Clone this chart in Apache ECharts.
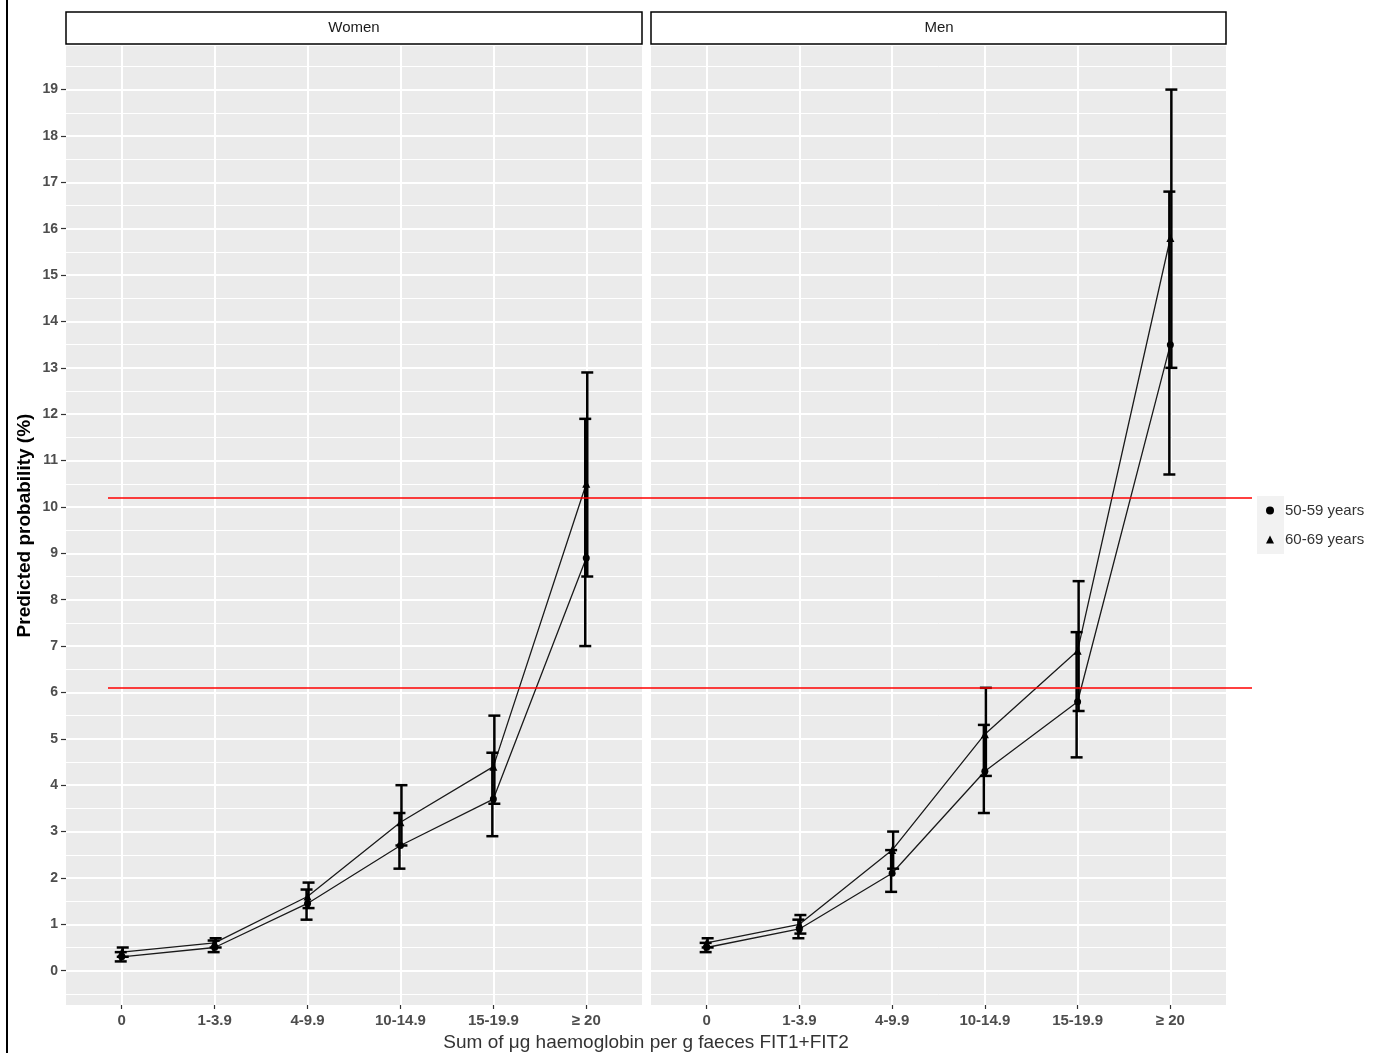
<!DOCTYPE html>
<html lang="en">
<head>
    <meta charset="utf-8">
    <script src="https://cdn.jsdelivr.net/npm/echarts@6/dist/echarts.min.js"></script>
    <title>Predicted probability by FIT haemoglobin</title>
    <style>
        html, body { margin: 0; padding: 0; background: #fff; }
        #main { width: 1379px; height: 1053px; }
    </style>
</head>
<body>
<div id="main"></div>
<script type="text/javascript">
    // categories of summed haemoglobin (FIT1+FIT2)
    var categories = ['0', '1-3.9', '4-9.9', '10-14.9', '15-19.9', '\u2265 20'];
    var yTicks = [0, 1, 2, 3, 4, 5, 6, 7, 8, 9, 10, 11, 12, 13, 14, 15, 16, 17, 18, 19];
    var yMinor = [-0.5, 0.5, 1.5, 2.5, 3.5, 4.5, 5.5, 6.5, 7.5, 8.5, 9.5, 10.5, 11.5, 12.5, 13.5, 14.5, 15.5, 16.5, 17.5, 18.5, 19.5];

    // Women
    var women50 = [0.3, 0.5, 1.45, 2.7, 3.7, 8.9];
    var women50Low = [0.2, 0.4, 1.1, 2.2, 2.9, 7.0];
    var women50High = [0.4, 0.65, 1.75, 3.4, 4.7, 11.9];
    var women60 = [0.4, 0.6, 1.6, 3.2, 4.4, 10.5];
    var women60Low = [0.3, 0.5, 1.35, 2.7, 3.6, 8.5];
    var women60High = [0.5, 0.7, 1.9, 4.0, 5.5, 12.9];

    // Men
    var men50 = [0.5, 0.9, 2.1, 4.3, 5.8, 13.5];
    var men50Low = [0.4, 0.7, 1.7, 3.4, 4.6, 10.7];
    var men50High = [0.6, 1.1, 2.6, 5.3, 7.3, 16.8];
    var men60 = [0.6, 1.0, 2.6, 5.1, 6.9, 15.8];
    var men60Low = [0.5, 0.8, 2.2, 4.2, 5.6, 13.0];
    var men60High = [0.7, 1.2, 3.0, 6.1, 8.4, 19.0];

    // red reference lines
    var thresholds = [10.2, 6.1];

    var yMin = -0.74, yMax = 19.94;

    function points(arr) {
        return arr.map(function (v, i) { return [i, v]; });
    }
    function ranges(lo, hi) {
        return lo.map(function (v, i) { return [i, v, hi[i]]; });
    }

    // draws a vertical error bar with caps
    function errorBar(offset) {
        return function (params, api) {
            var x = api.value(0);
            var lo = api.coord([x, api.value(1)]);
            var hi = api.coord([x, api.value(2)]);
            var cx = lo[0] + offset;
            var half = 6;
            var style = {stroke: '#000', lineWidth: 2.5};
            return {
                type: 'group',
                children: [
                    {type: 'line', shape: {x1: cx, y1: hi[1], x2: cx, y2: lo[1]}, style: style},
                    {type: 'line', shape: {x1: cx - half, y1: hi[1], x2: cx + half, y2: hi[1]}, style: style},
                    {type: 'line', shape: {x1: cx - half, y1: lo[1], x2: cx + half, y2: lo[1]}, style: style}
                ]
            };
        };
    }

    function xAxisFor(gridIndex) {
        return {
            type: 'value', gridIndex: gridIndex, min: -0.6, max: 5.6,
            axisLine: {show: false, onZero: false},
            axisTick: {show: true, customValues: [0, 1, 2, 3, 4, 5], length: 4,
                lineStyle: {color: '#333', width: 1.2}},
            axisLabel: {customValues: [0, 1, 2, 3, 4, 5], margin: 8,
                formatter: function (v) { return categories[Math.round(v)]; },
                color: '#4D4D4D', fontWeight: 'bold', fontSize: 15, fontFamily: 'Liberation Sans'},
            splitLine: {show: true, lineStyle: {color: '#fff', width: 2}}
        };
    }

    function yMajor(gridIndex, labels) {
        return {
            type: 'value', gridIndex: gridIndex, min: yMin, max: yMax,
            axisLine: {show: false, onZero: false},
            axisTick: {show: labels, customValues: yTicks, length: 5,
                lineStyle: {color: '#333', width: 1.2}},
            axisLabel: {show: labels, customValues: yTicks, margin: 8,
                color: '#4D4D4D', fontWeight: 'bold', fontSize: 14, fontFamily: 'Liberation Sans'},
            splitLine: {show: true, lineStyle: {color: '#fff', width: 2}},
            name: labels ? 'Predicted probability (%)' : '',
            nameLocation: 'middle', nameGap: 32, nameRotate: 90,
            nameTextStyle: {color: '#000', fontWeight: 'bold', fontSize: 19, fontFamily: 'Liberation Sans'}
        };
    }

    function yMinorAxis(gridIndex) {
        return {
            type: 'value', gridIndex: gridIndex, min: yMin, max: yMax, position: 'left',
            axisLine: {show: false, onZero: false},
            axisTick: {show: false, customValues: yMinor},
            axisLabel: {show: false},
            splitLine: {show: true, lineStyle: {color: '#fff', width: 1}}
        };
    }

    function panelSeries(xi, yi, v50, lo50, hi50, v60, lo60, hi60) {
        var lineStyle = {color: '#1a1a1a', width: 1.3};
        return [
            {name: '50-59 years', type: 'line', xAxisIndex: xi, yAxisIndex: yi, data: points(v50),
                symbol: 'circle', symbolSize: 7, itemStyle: {color: '#000'}, lineStyle: lineStyle, z: 3},
            {name: '60-69 years', type: 'line', xAxisIndex: xi, yAxisIndex: yi, data: points(v60),
                symbol: 'triangle', symbolSize: 8, itemStyle: {color: '#000'}, lineStyle: lineStyle, z: 3},
            {name: '50-59 years', type: 'custom', xAxisIndex: xi, yAxisIndex: yi, data: ranges(lo50, hi50),
                renderItem: errorBar(-1), encode: {x: 0, y: [1, 2]}, z: 4},
            {name: '60-69 years', type: 'custom', xAxisIndex: xi, yAxisIndex: yi, data: ranges(lo60, hi60),
                renderItem: errorBar(1), encode: {x: 0, y: [1, 2]}, z: 4}
        ];
    }

    var chart = echarts.init(document.getElementById('main'), null, {renderer: 'canvas'});

    var series = []
        .concat(panelSeries(0, 0, women50, women50Low, women50High, women60, women60Low, women60High))
        .concat(panelSeries(1, 2, men50, men50Low, men50High, men60, men60Low, men60High));

    series.push({
        name: 'thresholds', type: 'line', xAxisIndex: 2, yAxisIndex: 4, data: [],
        silent: true,
        markLine: {
            symbol: 'none', silent: true, label: {show: false},
            lineStyle: {color: '#FF0000', width: 1.5, type: 'solid'},
            data: thresholds.map(function (t) { return {yAxis: t}; })
        },
        z: 5
    });

    var option = {
        animation: false,
        backgroundColor: '#fff',
        grid: [
            {left: 66, top: 46, width: 576, height: 959, show: true, backgroundColor: '#EBEBEB', borderWidth: 0},
            {left: 651, top: 46, width: 575, height: 959, show: true, backgroundColor: '#EBEBEB', borderWidth: 0},
            {left: 108, top: 46, width: 1144, height: 959, show: false}
        ],
        xAxis: [
            xAxisFor(0),
            xAxisFor(1),
            {type: 'value', gridIndex: 2, min: 0, max: 1, show: false}
        ],
        yAxis: [
            yMajor(0, true),
            yMinorAxis(0),
            yMajor(1, false),
            yMinorAxis(1),
            {type: 'value', gridIndex: 2, min: yMin, max: yMax, show: false}
        ],
        legend: {
            orient: 'vertical', left: 1266, top: 496, padding: 0, itemGap: 0,
            itemWidth: 8, itemHeight: 8,
            data: [{name: '50-59 years', icon: 'circle'}, {name: '60-69 years', icon: 'triangle'}],
            itemStyle: {color: '#000'},
            textStyle: {color: '#333', fontSize: 15, lineHeight: 29, padding: [0, 0, 0, 6],
                fontFamily: 'Liberation Sans'}
        },
        graphic: [
            {type: 'line', shape: {x1: 7, y1: 0, x2: 7, y2: 1053}, style: {stroke: '#000', lineWidth: 2}},
            {type: 'rect', shape: {x: 1257, y: 496, width: 27, height: 29}, style: {fill: '#F2F2F2'}, z: -1},
            {type: 'rect', shape: {x: 1257, y: 525, width: 27, height: 29}, style: {fill: '#F2F2F2'}, z: -1},
            {type: 'rect', shape: {x: 66, y: 12, width: 576, height: 32}, style: {fill: '#fff', stroke: '#000', lineWidth: 1.5}},
            {type: 'text', x: 354, y: 28, style: {text: 'Women', fill: '#1a1a1a', fontSize: 15,
                fontFamily: 'Liberation Sans', textAlign: 'center', textVerticalAlign: 'middle'}},
            {type: 'rect', shape: {x: 651, y: 12, width: 575, height: 32}, style: {fill: '#fff', stroke: '#000', lineWidth: 1.5}},
            {type: 'text', x: 939, y: 28, style: {text: 'Men', fill: '#1a1a1a', fontSize: 15,
                fontFamily: 'Liberation Sans', textAlign: 'center', textVerticalAlign: 'middle'}},
            {type: 'text', x: 646, y: 1043, style: {text: 'Sum of \u03bcg haemoglobin per g faeces FIT1+FIT2',
                fill: '#333', fontSize: 19, fontFamily: 'Liberation Sans', textAlign: 'center', textVerticalAlign: 'middle'}}
        ],
        series: series
    };

    chart.setOption(option);
</script>
</body>
</html>
